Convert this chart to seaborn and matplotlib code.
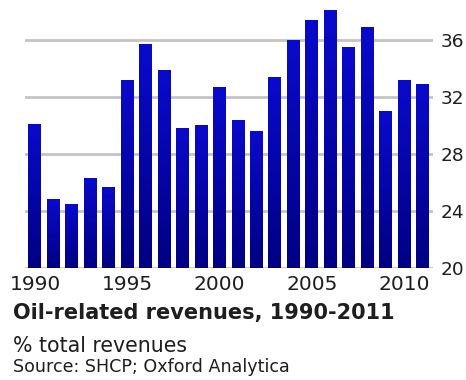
import numpy as np
import pandas as pd
import matplotlib
matplotlib.use("Agg")
import matplotlib.pyplot as plt
from matplotlib.colors import LinearSegmentedColormap
import seaborn as sns

# Oil-related revenues as a share of total revenues (%)
years = list(range(1990, 2012))
share = [30.1, 24.8, 24.5, 26.3, 25.7, 33.2, 35.7, 33.9, 29.8, 30.0, 32.7,
         30.4, 29.6, 33.4, 36.0, 37.4, 38.1, 35.5, 36.9, 31.0, 33.2, 32.9]
xtick_years = [1990, 1995, 2000, 2005, 2010]
ytick_vals = [20, 24, 28, 32, 36]

title = "Oil-related revenues, 1990-2011"
subtitle = "% total revenues"
source = "Source: SHCP; Oxford Analytica"

df = pd.DataFrame({"year": years, "share": share})

sns.set_theme(style="white")
plt.rcParams["font.family"] = ["DejaVu Sans"]

fig = plt.figure(figsize=(4.66, 3.80), dpi=100)
ax = fig.add_axes([0.054, 0.2955, 0.875, 0.7045])

sns.barplot(data=df, x="year", y="share", color="#0000a0", width=0.7,
            ax=ax, zorder=2)

# vertical navy-to-blue fill inside each bar
cmap = LinearSegmentedColormap.from_list("oilblue", ["#000082", "#0a0acc"])
grad = np.linspace(0, 1, 256).reshape(-1, 1)
for bar in ax.patches:
    x0, w, h = bar.get_x(), bar.get_width(), bar.get_height()
    im = ax.imshow(grad, cmap=cmap, origin="lower", aspect="auto",
                   extent=(x0, x0 + w, 20, h), zorder=2.5)
    im.set_clip_path(bar)
    bar.set_facecolor("none")
    bar.set_edgecolor("none")

ax.set_xlim(-0.53, 21.56)
ax.set_ylim(20, 38.8)

for v in ytick_vals:
    ax.axhline(v, color="#c4c4c4", lw=2.0, zorder=1)

ax.set_yticks(ytick_vals)
ax.set_yticklabels([str(v) for v in ytick_vals])
ax.yaxis.tick_right()
ax.set_xticks([years.index(y) for y in xtick_years])
ax.set_xticklabels([str(y) for y in xtick_years])
ax.tick_params(axis="both", length=0, colors="#1e1e1e")
ax.tick_params(axis="x", labelsize=14.5, pad=5.5)
ax.tick_params(axis="y", labelsize=13.3, pad=5.5)
ax.set_xlabel("")
ax.set_ylabel("")
for s in ax.spines.values():
    s.set_visible(False)

fig.text(0.028, 0.1605, title, fontsize=15, fontweight="bold", color="#1e1e1e",
         va="baseline", ha="left")
fig.text(0.028, 0.0724, subtitle, fontsize=14.8, color="#1e1e1e",
         va="baseline", ha="left")
fig.text(0.028, 0.021, source, fontsize=12.6, color="#1e1e1e",
         va="baseline", ha="left")

fig.savefig("out.png", dpi=100)
